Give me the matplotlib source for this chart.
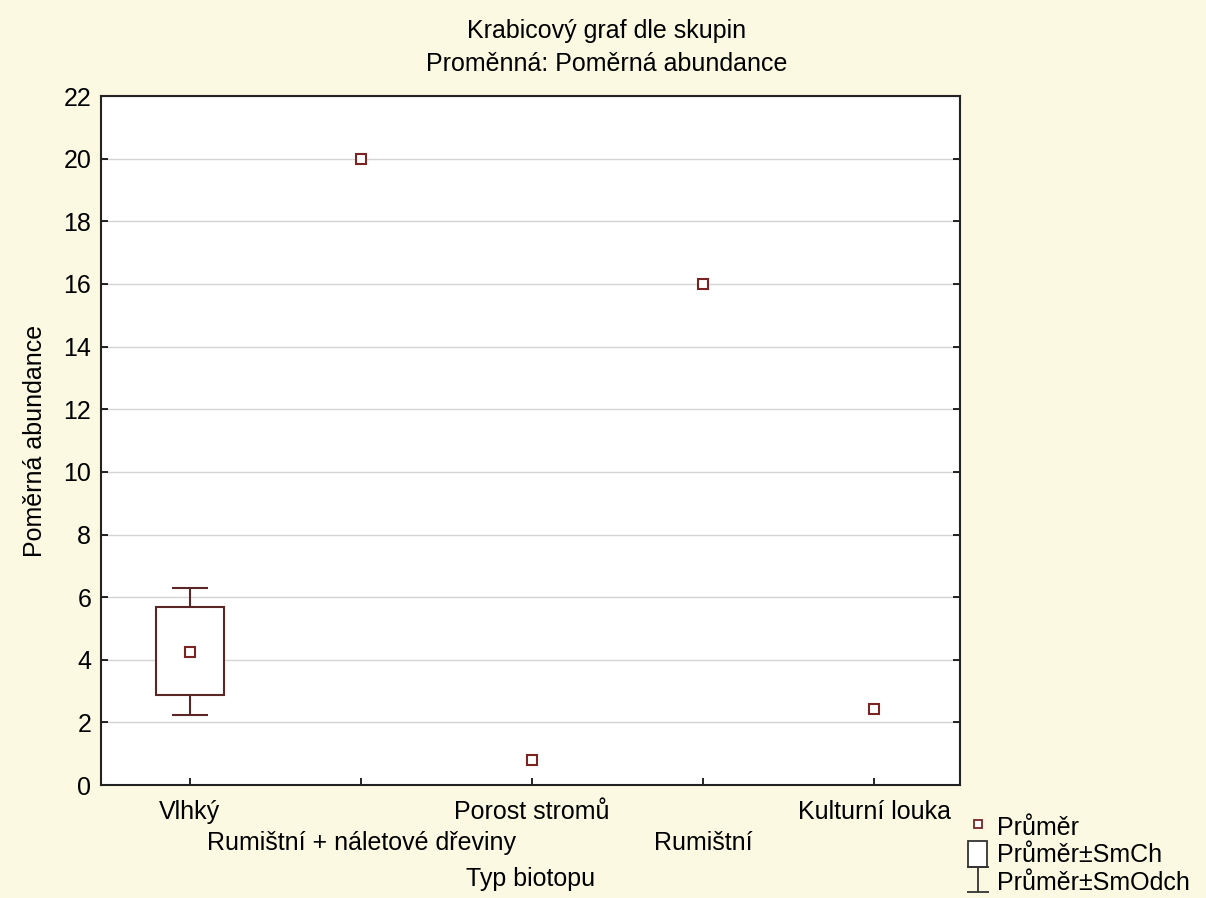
"""Box plot by group (mean, mean±SE box, mean±SD whiskers)."""
import numpy as np
import matplotlib
matplotlib.use("Agg")
import matplotlib.pyplot as plt
from matplotlib.patches import Rectangle
from matplotlib.lines import Line2D
from matplotlib.collections import LineCollection
from matplotlib.container import ErrorbarContainer

plt.rcParams['font.family'] = ['Liberation Sans', 'DejaVu Sans']

groups = ["Vlhký", "Rumištní + náletové dřeviny", "Porost stromů",
          "Rumištní", "Kulturní louka"]
means = [4.26, 20.0, 0.8, 16.0, 2.43]
se_lo = [2.86, np.nan, np.nan, np.nan, np.nan]
se_hi = [5.70, np.nan, np.nan, np.nan, np.nan]
sd_lo = [2.23, np.nan, np.nan, np.nan, np.nan]
sd_hi = [6.28, np.nan, np.nan, np.nan, np.nan]
y_ticks = list(range(0, 23, 2))

BG = "#fbf9e1"
COL = "#5a2626"
MCOL = "#7a2424"
FS = 18

fig = plt.figure(figsize=(12.06, 8.98), dpi=100, facecolor=BG)
ax = fig.add_axes([0.0837, 0.1258, 0.7123, 0.7672])
ax.set_facecolor("white")

x = np.arange(1, len(groups) + 1)
means = np.asarray(means)
se_lo, se_hi = np.asarray(se_lo), np.asarray(se_hi)
sd_lo, sd_hi = np.asarray(sd_lo), np.asarray(sd_hi)
has = ~np.isnan(se_lo)

# whiskers (mean ± SD)
ax.errorbar(x[has], means[has],
            yerr=[means[has] - sd_lo[has], sd_hi[has] - means[has]],
            fmt="none", ecolor=COL, elinewidth=1.5, capsize=13,
            capthick=1.5, zorder=3)
# box (mean ± SE)
ax.bar(x[has], se_hi[has] - se_lo[has], bottom=se_lo[has], width=0.4,
       facecolor="white", edgecolor=COL, linewidth=1.5, zorder=4)
# means
ax.plot(x, means, ls="none", marker="s", ms=7, mfc="white", mec=MCOL,
        mew=1.5, zorder=5)

ax.set_xlim(0.48, 5.5)
ax.set_ylim(0, 22)
ax.set_yticks(y_ticks)
ax.set_xticks(x)
ax.set_xticklabels(groups)
ax.tick_params(axis="both", direction="in", length=5, width=1.2,
               labelsize=FS, colors="black", top=False, right=True)
ax.tick_params(axis="y", pad=7)
# staggered category labels: every second one on a lower row
for i, tick in enumerate(ax.xaxis.get_major_ticks()):
    tick.set_pad(11 if i % 2 == 0 else 33)
ax.yaxis.grid(True, color="#d4d4d4", lw=1.0)
ax.set_axisbelow(True)
for s in ax.spines.values():
    s.set_linewidth(1.5)
    s.set_color("#222222")

ax.set_xlabel("Typ biotopu", fontsize=FS, labelpad=9)
ax.set_ylabel("Poměrná abundance", fontsize=FS, labelpad=12)
fig.text(0.503, 0.966, "Krabicový graf dle skupin", ha="center",
         va="center", fontsize=FS)
fig.text(0.503, 0.929, "Proměnná: Poměrná abundance", ha="center",
         va="center", fontsize=FS)

# legend proxies
eb_proxy = ErrorbarContainer(
    (None,
     (Line2D([], [], ls="none", marker="_", ms=16, mew=1.3, color="#333333"),),
     (LineCollection([], colors="#333333", linewidths=1.3),)),
    has_xerr=False, has_yerr=True)
handles = [
    Line2D([], [], ls="none", marker="s", ms=6, mfc="white", mec=MCOL,
           mew=1.3),
    Rectangle((0, 0), 1, 1, facecolor="white", edgecolor="#333333", lw=1.3),
    eb_proxy,
]
fig.legend(handles, ["Průměr", "Průměr±SmCh", "Průměr±SmOdch"],
           loc="upper left", bbox_to_anchor=(0.803, 0.094), frameon=False,
           fontsize=FS, handlelength=0.75, handleheight=1.2, handletextpad=0.4,
           labelspacing=0.05, borderaxespad=0, borderpad=0)

fig.savefig("out.png", dpi=100, facecolor=BG)
